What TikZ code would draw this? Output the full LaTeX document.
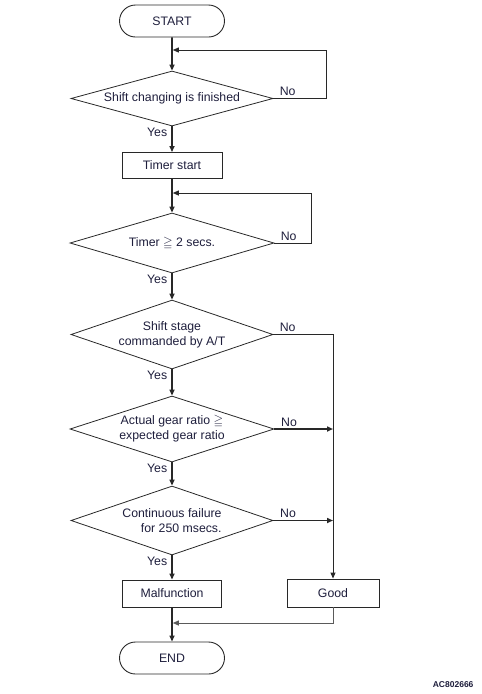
\documentclass[tikz,border=0pt]{standalone}
\usepackage{amssymb}
\usepackage{fontspec}
\setmainfont{Liberation Sans}
\usetikzlibrary{shapes.geometric, shapes.misc, arrows.meta}
\definecolor{inkblue}{RGB}{30,30,60}
\definecolor{linegray}{RGB}{40,40,40}
\definecolor{softgray}{RGB}{90,90,90}
\tikzset{
  term/.style={rounded rectangle, draw=linegray, line width=0.9pt,
    minimum width=105pt, minimum height=32pt, inner sep=0pt, text=inkblue},
  dec/.style={diamond, draw=linegray, line width=0.8pt, aspect=3.6,
    minimum width=202pt, inner sep=0pt, align=center, text=inkblue},
  proc/.style={rectangle, draw=linegray, line width=0.9pt,
    minimum width=100pt, minimum height=26pt, inner sep=0pt, text=inkblue},
  flow/.style={-{Triangle[length=6pt,width=5pt]}, line width=1.6pt, linegray},
  back/.style={-{Triangle[length=6pt,width=5pt]}, line width=0.9pt, linegray},
  nolbl/.style={anchor=south west, inner sep=1pt, xshift=5pt, yshift=1pt, text=inkblue},
  yeslbl/.style={anchor=north east, inner sep=1pt, xshift=-3pt, text=inkblue}
}

\begin{document}
\begin{tikzpicture}[x=1pt, y=-1pt, font=\fontsize{12.3}{15}\selectfont]
  \useasboundingbox (0,0) rectangle (482,694);
  \node[term] (start) at (172,21) {START};
  \node[dec, minimum height=55pt] (d1) at (172,98.5) {Shift changing is finished};
  \node[proc] (tmr) at (172,165.5) {Timer start};
  \node[dec, minimum height=60pt, minimum width=204pt] (d2) at (172,243) {Timer $\geqq$ 2 secs.};
  \node[dec, minimum height=69pt] (d3) at (172,334.5) {Shift stage\\commanded by A/T};
  \node[dec, minimum height=66pt, minimum width=204pt] (d4) at (172,429) {Actual gear ratio $\geqq$\\expected gear ratio};
  \node[dec, minimum height=69pt, align=right] (d5) at (172,520.5) {Continuous failure\\for 250 msecs.};
  \node[proc, minimum width=99pt, minimum height=27pt] (mal) at (172,593.5) {Malfunction};
  \node[proc, minimum width=92pt, minimum height=28pt] (good) at (333,593) {Good};
  \node[term] (stop) at (172,658) {END};
  \node[anchor=east, font=\fontsize{8.5}{10}\selectfont\bfseries, text=inkblue] (code) at (477,685) {AC802666};

  \coordinate (j1) at (172,50);
  \coordinate (j2) at (172,193);
  \coordinate (j3) at (333,623);
  \coordinate (c4) at (333,429);
  \coordinate (c5) at (333,520.5);

  \draw[flow] (start) -- (d1);
  \draw[flow] (d1) -- (tmr) node[yeslbl] at (d1.south) {Yes};
  \draw[flow] (tmr) -- (d2);
  \draw[flow] (d2) -- (d3) node[yeslbl] at (d2.south) {Yes};
  \draw[flow] (d3) -- (d4) node[yeslbl] at (d3.south) {Yes};
  \draw[flow] (d4) -- (d5) node[yeslbl] at (d4.south) {Yes};
  \draw[flow] (d5) -- (mal) node[yeslbl] at (d5.south) {Yes};
  \draw[flow] (mal) -- (stop);

  \draw[back, shorten >=0.8pt] (d1.east) node[nolbl] {No} -| (326,50) -- (j1);
  \draw[back, shorten >=0.8pt] (d2.east) node[nolbl] {No} -| (311,193) -- (j2);
  \draw[back] (d3.east) node[nolbl] {No} -| (good.north);
  \draw[flow] (d4.east) node[nolbl] {No} -- (c4);
  \draw[flow] (d5.east) node[nolbl] {No} -- (c5);
  \draw[back, softgray, shorten >=0.8pt] (good.south) -- (j3) -- (172,623);
\end{tikzpicture}
\end{document}
